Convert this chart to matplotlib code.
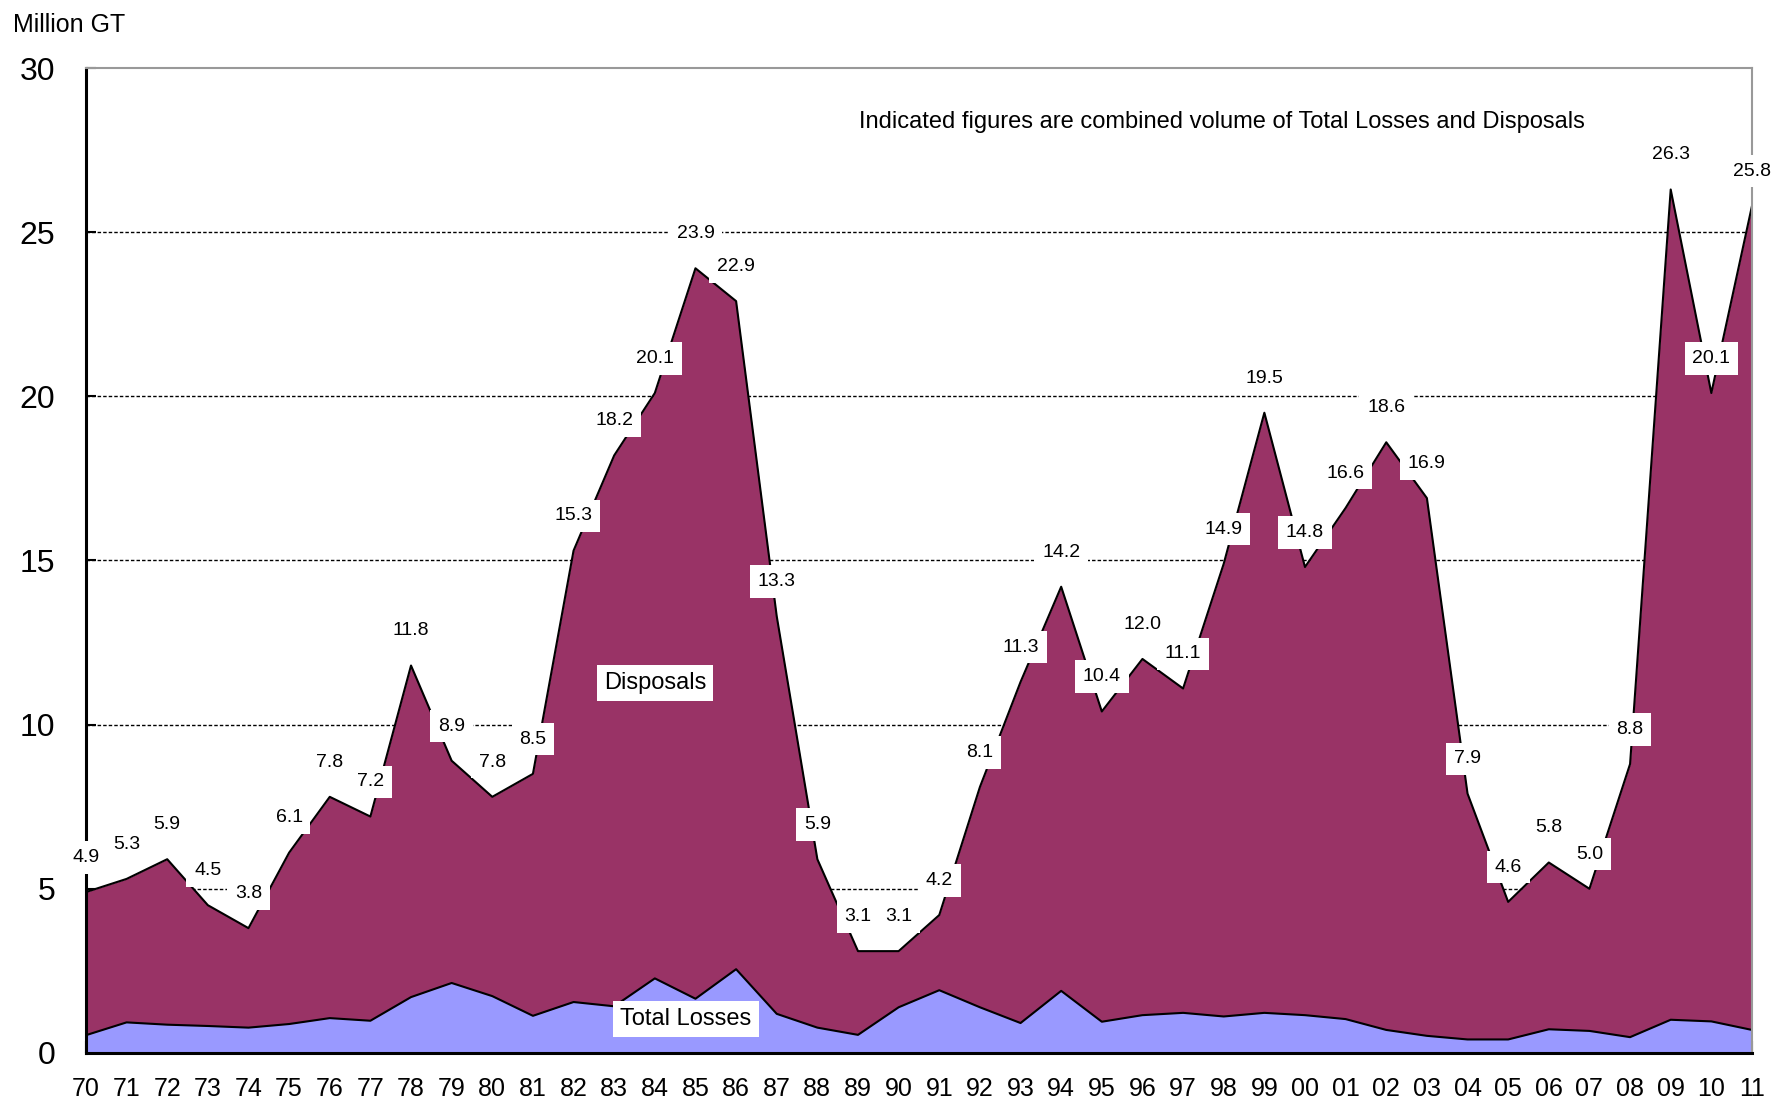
import numpy as np
import matplotlib
matplotlib.use("Agg")
import matplotlib.pyplot as plt

# Ship scrapping / losses, million GT, 1970-2011
years = list(range(1970, 2012))
year_labels = [f"{y % 100:02d}" for y in years]
combined = [4.9, 5.3, 5.9, 4.5, 3.8, 6.1, 7.8, 7.2, 11.8, 8.9,
            7.8, 8.5, 15.3, 18.2, 20.1, 23.9, 22.9, 13.3, 5.9, 3.1,
            3.1, 4.2, 8.1, 11.3, 14.2, 10.4, 12.0, 11.1, 14.9, 19.5,
            14.8, 16.6, 18.6, 16.9, 7.9, 4.6, 5.8, 5.0, 8.8, 26.3,
            20.1, 25.8]
total_losses = [0.54, 0.93, 0.86, 0.82, 0.77, 0.88, 1.06, 0.98, 1.70, 2.13,
                1.73, 1.13, 1.55, 1.42, 2.27, 1.65, 2.55, 1.19, 0.77, 0.55,
                1.39, 1.91, 1.39, 0.91, 1.89, 0.95, 1.15, 1.22, 1.11, 1.22,
                1.15, 1.03, 0.70, 0.52, 0.41, 0.41, 0.72, 0.67, 0.48, 1.01,
                0.96, 0.70]

LOSS_COLOR = "#9999FF"
DISP_COLOR = "#993366"
FONT = ["Liberation Sans", "DejaVu Sans"]
plt.rcParams["font.family"] = FONT

x = np.array(years, dtype=float)
tot = np.array(combined)
loss = np.array(total_losses)

fig = plt.figure(figsize=(17.72, 11.06), dpi=100)
ax = fig.add_axes([0.0485, 0.048, 0.9402, 0.8905])

ax.fill_between(x, 0, loss, color=LOSS_COLOR, linewidth=0, zorder=2)
ax.fill_between(x, loss, tot, color=DISP_COLOR, linewidth=0, zorder=2)
ax.plot(x, loss, color="black", linewidth=1.5, zorder=3)
ax.plot(x, tot, color="black", linewidth=1.5, zorder=3)

for yv in [5, 10, 15, 20, 25]:
    ax.axhline(yv, color="black", linestyle=(0, (2.5, 1.5)), linewidth=1.0, zorder=1)

ax.set_xlim(years[0], years[-1])
ax.set_ylim(0, 30)
ax.set_yticks(range(0, 31, 5))
ax.set_xticks(years)
ax.set_xticklabels(year_labels, fontsize=18)
ax.set_yticklabels([str(v) for v in range(0, 31, 5)], fontsize=23)
ax.tick_params(axis="y", direction="in", length=7, width=1.5, pad=22)
ax.tick_params(axis="x", direction="in", length=9, width=1.5, pad=17)

for side in ("top", "right"):
    ax.spines[side].set_color("#999999")
    ax.spines[side].set_linewidth(1.5)
for side in ("left", "bottom"):
    ax.spines[side].set_color("black")
    ax.spines[side].set_linewidth(2.2)
for sp in ax.spines.values():
    sp.set_zorder(4)

# value labels above each point
for xi, v in zip(x, tot):
    ax.annotate(f"{v:.1f}", (xi, v), xytext=(0, 25), textcoords="offset points",
                ha="center", va="center", fontsize=14,
                bbox=dict(boxstyle="square,pad=0.4", fc="white", ec="none"),
                zorder=5, annotation_clip=False)

ax.text(1984.0, 11.28, "Disposals", ha="center", va="center", fontsize=17,
        zorder=5, bbox=dict(boxstyle="square,pad=0.3", fc="white", ec="none"))
ax.text(1984.77, 1.03, "Total Losses", ha="center", va="center", fontsize=17,
        zorder=5, bbox=dict(boxstyle="square,pad=0.3", fc="white", ec="none"))

fig.text(1222 / 1772, 1 - 122 / 1106,
         "Indicated figures are combined volume of Total Losses and Disposals",
         ha="center", va="center", fontsize=17)
fig.text(13 / 1772, 1 - 25 / 1106, "Million GT", ha="left", va="center",
         fontsize=18)

fig.savefig("out.png", dpi=100)
